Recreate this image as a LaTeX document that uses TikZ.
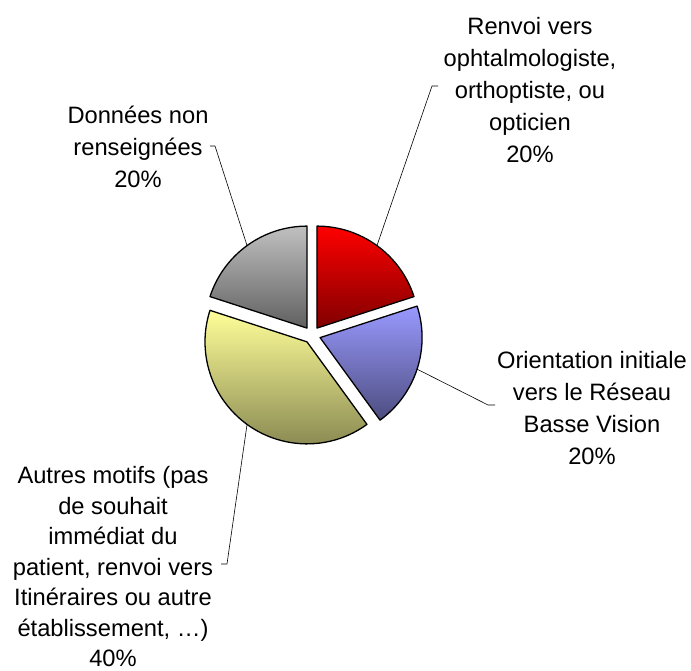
\documentclass[tikz,border=0pt]{standalone}
\usepackage{fontspec}
\setmainfont{Liberation Sans}
\usetikzlibrary{calc}
\definecolor{redtop}{HTML}{FF0000}
\definecolor{redbot}{HTML}{800000}
\definecolor{bluetop}{HTML}{9999FF}
\definecolor{bluebot}{HTML}{4D4D80}
\definecolor{yeltop}{HTML}{FFFF99}
\definecolor{yelbot}{HTML}{80804D}
\definecolor{graytop}{HTML}{C0C0C0}
\definecolor{graybot}{HTML}{606060}
\begin{document}
\begin{tikzpicture}[x=1pt,y=1pt,
  slice/.style={draw=black, line width=1.3pt, line join=round},
  leader/.style={draw=black, line width=0.6pt},
  lbl/.style={align=center, inner sep=0pt, font=\fontsize{23.7}{32}\selectfont}]
\useasboundingbox (0,0) rectangle (691,671);
\fill[white] (0,0) rectangle (691,671);
\coordinate (C) at (312,336);
\def\R{102}
% tips of exploded slices
\coordinate (tr) at ($(C)+(54:8.5)$);
\coordinate (tb) at ($(C)+(-18:8.5)$);
\coordinate (ty) at ($(C)+(-126:8.5)$);
\coordinate (tg) at ($(C)+(126:8.5)$);
% slices
\path[slice, top color=redtop, bottom color=redbot]
  (tr) -- ++(90:\R) arc[start angle=90, end angle=18, radius=\R] -- cycle;
\path[slice, top color=bluetop, bottom color=bluebot]
  (tb) -- ++(18:\R) arc[start angle=18, end angle=-54, radius=\R] -- cycle;
\path[slice, top color=yeltop, bottom color=yelbot]
  (ty) -- ++(-54:\R) arc[start angle=-54, end angle=-198, radius=\R] -- cycle;
\path[slice, top color=graytop, bottom color=graybot]
  (tg) -- ++(162:\R) arc[start angle=162, end angle=90, radius=\R] -- cycle;
% labels
\node[lbl] (lred) at (530,581) {Renvoi vers\\ophtalmologiste,\\orthoptiste, ou\\opticien\\20\%};
\node[lbl] (lgray) at (138,524) {Données non\\renseignées\\20\%};
\node[lbl] (lblue) at (592,263) {Orientation initiale\\vers le Réseau\\Basse Vision\\20\%};
\node[lbl, font=\fontsize{23.7}{30.5}\selectfont] (lyel) at (113,104) {Autres motifs (pas\\de souhait\\immédiat du\\patient, renvoi vers\\Itinéraires ou autre\\établissement, …)\\40\%};
% leader points
\coordinate (r1) at ($(tr)+(54:\R)$);
\coordinate (r2) at (432,585);
\coordinate (r3) at (438,585);
\coordinate (g1) at ($(tg)+(126:\R)$);
\coordinate (g2) at (215,525);
\coordinate (g3) at (210,525);
\coordinate (b1) at ($(tb)+(-18:\R)$);
\coordinate (b2) at (488,266);
\coordinate (b3) at (495,266);
\coordinate (y1) at ($(ty)+(-126:\R)$);
\coordinate (y2) at (227,107);
\coordinate (y3) at (221,107);
\draw[leader] (r1) -- (r2) -- (r3);
\draw[leader] (g1) -- (g2) -- (g3);
\draw[leader] (b1) -- (b2) -- (b3);
\draw[leader] (y1) -- (y2) -- (y3);
\end{tikzpicture}
\end{document}
